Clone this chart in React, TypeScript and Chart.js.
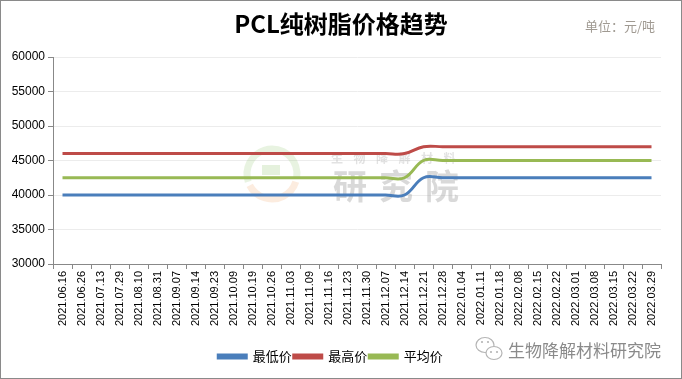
import React, { useEffect, useRef } from "react";
import { Chart, registerables } from "chart.js";

Chart.register(...registerables);

const categories = [
  "2021.06.16", "2021.06.26", "2021.07.13", "2021.07.29", "2021.08.10", "2021.08.31",
  "2021.09.07", "2021.09.14", "2021.09.23", "2021.10.09", "2021.10.19", "2021.10.26",
  "2021.11.03", "2021.11.09", "2021.11.16", "2021.11.23", "2021.11.30", "2021.12.07",
  "2021.12.14", "2021.12.21", "2021.12.28", "2022.01.04", "2022.01.11", "2022.01.18",
  "2022.02.08", "2022.02.15", "2022.02.22", "2022.03.01", "2022.03.08", "2022.03.15",
  "2022.03.22", "2022.03.29",
];

const lowPrice = [
  40000, 40000, 40000, 40000, 40000, 40000, 40000, 40000, 40000, 40000, 40000, 40000,
  40000, 40000, 40000, 40000, 40000, 40000, 40000, 42500, 42500, 42500, 42500, 42500,
  42500, 42500, 42500, 42500, 42500, 42500, 42500, 42500,
];
const highPrice = [
  46000, 46000, 46000, 46000, 46000, 46000, 46000, 46000, 46000, 46000, 46000, 46000,
  46000, 46000, 46000, 46000, 46000, 46000, 46000, 47000, 47000, 47000, 47000, 47000,
  47000, 47000, 47000, 47000, 47000, 47000, 47000, 47000,
];
const avgPrice = [
  42500, 42500, 42500, 42500, 42500, 42500, 42500, 42500, 42500, 42500, 42500, 42500,
  42500, 42500, 42500, 42500, 42500, 42500, 42500, 45000, 45000, 45000, 45000, 45000,
  45000, 45000, 45000, 45000, 45000, 45000, 45000, 45000,
];
const seriesNames = ["最低价", "最高价", "平均价"];
const yMin = 30000;
const yMax = 60000;
const yStep = 5000;

const titleText = "PCL纯树脂价格趋势";
const unitText = "单位：元/吨";
const wmSmall = "生物降解材料";
const wmBig = "研究院";
const brandText = "生物降解材料研究院";

const CJK = "'Noto Sans CJK SC', 'Liberation Sans', sans-serif";
const LAT = "'Liberation Sans', 'Noto Sans CJK SC', sans-serif";

const decorPlugin = {
  id: "decor",
  beforeDatasetsDraw(chart: any) {
    const ctx = chart.ctx;
    ctx.save();
    ctx.lineWidth = 7;
    ctx.strokeStyle = "rgba(150,200,120,0.22)";
    ctx.beginPath();
    ctx.arc(272, 174, 25, Math.PI * 0.9, Math.PI * 2.05);
    ctx.stroke();
    ctx.strokeStyle = "rgba(240,170,110,0.22)";
    ctx.beginPath();
    ctx.arc(272, 174, 25, Math.PI * 0.1, Math.PI * 0.85);
    ctx.stroke();
    ctx.fillStyle = "rgba(150,200,120,0.25)";
    ctx.fillRect(262, 165, 18, 10);
    ctx.fillStyle = "rgba(190,190,190,0.45)";
    ctx.font = `bold 12px ${CJK}`;
    ctx.textBaseline = "middle";
    ctx.textAlign = "left";
    for (let i = 0; i < wmSmall.length; i++) {
      ctx.fillText(wmSmall[i], 331 + i * 22.5, 158);
    }
    ctx.font = `bold 34px ${CJK}`;
    ctx.fillStyle = "rgba(170,170,170,0.45)";
    for (let i = 0; i < wmBig.length; i++) {
      ctx.fillText(wmBig[i], 333 + i * 46, 186);
    }
    ctx.restore();
  },
  afterDraw(chart: any) {
    const ctx = chart.ctx;
    ctx.save();
    ctx.textBaseline = "middle";
    ctx.textAlign = "center";
    ctx.fillStyle = "#000";
    ctx.font = `bold 24px ${CJK}`;
    ctx.fillText(titleText, 341, 24);
    ctx.textAlign = "left";
    ctx.fillStyle = "#a09a92";
    ctx.font = `13px ${CJK}`;
    ctx.fillText(unitText, 585, 26);
    ctx.fillStyle = "#8a8a8a";
    ctx.font = `17px ${CJK}`;
    ctx.fillText(brandText, 508, 351);
    ctx.strokeStyle = "#b5b5b5";
    ctx.lineWidth = 1.2;
    ctx.beginPath();
    ctx.ellipse(485, 345, 9, 7.5, 0, 0, Math.PI * 2);
    ctx.stroke();
    ctx.fillStyle = "#fff";
    ctx.beginPath();
    ctx.ellipse(494, 353, 8, 6.5, 0, 0, Math.PI * 2);
    ctx.fill();
    ctx.stroke();
    ctx.fillStyle = "#b5b5b5";
    [[482, 342], [488, 342], [491, 352], [497, 352]].forEach(([x, y]) => {
      ctx.beginPath();
      ctx.arc(x, y, 1.1, 0, Math.PI * 2);
      ctx.fill();
    });
    ctx.restore();
  },
};

export default function App() {
  const ref = useRef<HTMLCanvasElement | null>(null);
  useEffect(() => {
    document.body.style.margin = "0";
    if (!ref.current) return;
    const mk = (label: string, data: number[], color: string) => ({
      label,
      data,
      borderColor: color,
      backgroundColor: color,
      borderWidth: 3,
      pointRadius: 0,
      pointHoverRadius: 0,
      tension: 0.4,
      fill: false,
    });
    const chart = new Chart(ref.current, {
      type: "line",
      data: {
        labels: categories,
        datasets: [
          mk(seriesNames[0], lowPrice, "#4a7ebb"),
          mk(seriesNames[1], highPrice, "#be4b48"),
          mk(seriesNames[2], avgPrice, "#98b954"),
        ],
      },
      plugins: [decorPlugin],
      options: {
        animation: false,
        responsive: false,
        devicePixelRatio: 1,
        layout: { padding: { top: 57, right: 21, bottom: 6, left: 0 } },
        plugins: {
          title: { display: false },
          tooltip: { enabled: false },
          legend: {
            position: "bottom",
            labels: {
              boxWidth: 28,
              boxHeight: 3,
              padding: 2,
              color: "#000",
              font: { size: 13, family: CJK },
            },
          },
        },
        scales: {
          x: {
            offset: true,
            grid: { display: true, offset: true, drawOnChartArea: false, tickLength: 5, color: "#888" },
            border: { display: true, color: "#888" },
            ticks: {
              autoSkip: false,
              minRotation: 90,
              maxRotation: 90,
              padding: 2,
              color: "#000",
              font: { size: 11, family: LAT },
            },
            afterFit(scale: any) {
              scale.height = 84;
            },
          },
          y: {
            min: yMin,
            max: yMax,
            grid: { color: "#ececec", tickColor: "#888", tickLength: 5 },
            border: { display: true, color: "#888" },
            ticks: {
              stepSize: yStep,
              padding: 3,
              color: "#000",
              font: { size: 12, family: LAT },
              callback: (v: any) => String(v),
            },
            afterFit(scale: any) {
              scale.width = 53;
            },
          },
        },
      },
    } as any);
    return () => chart.destroy();
  }, []);
  return (
    <div style={{ position: "relative", width: 682, height: 379, background: "#fff" }}>
      <canvas ref={ref} width={682} height={379} style={{ position: "absolute", left: 0, top: 0 }} />
      <div
        style={{
          position: "absolute",
          left: 0,
          top: 0,
          width: 682,
          height: 379,
          boxSizing: "border-box",
          border: "1px solid #8a8a8a",
          pointerEvents: "none",
        }}
      />
    </div>
  );
}
